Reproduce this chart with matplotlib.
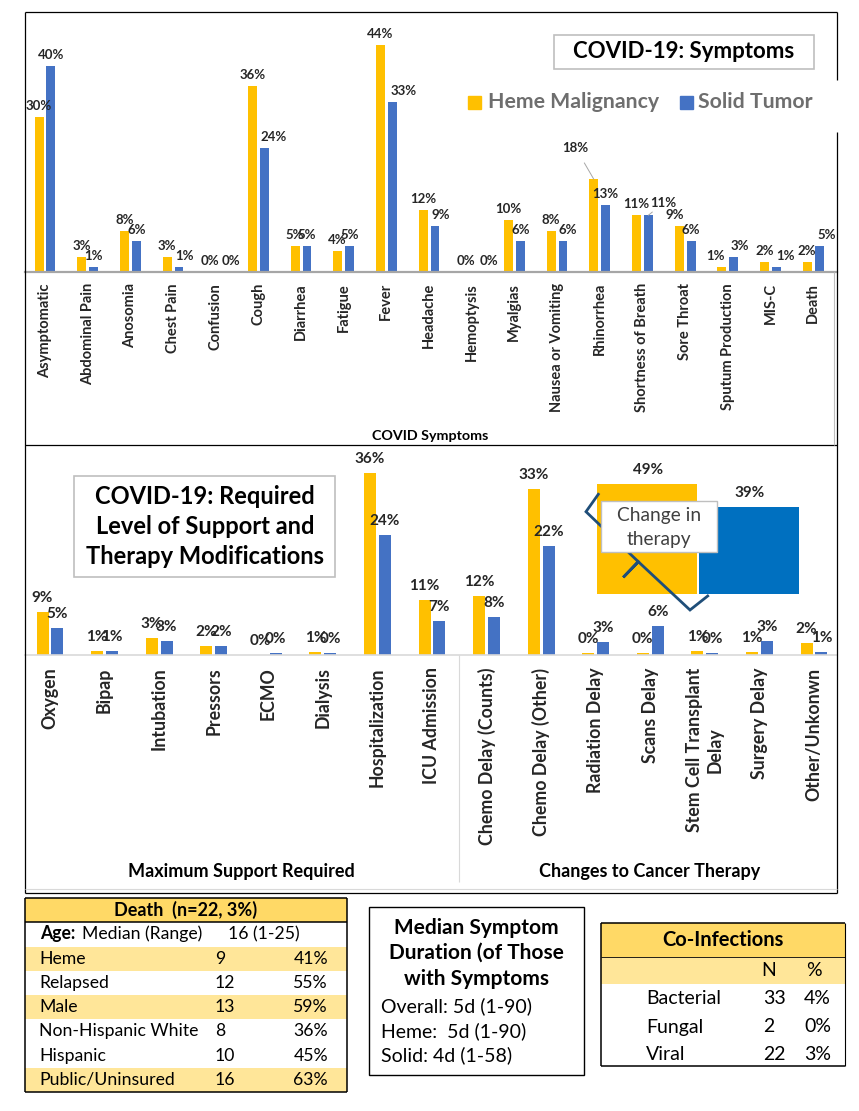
import matplotlib.pyplot as plt
from matplotlib.patches import Rectangle
import numpy as np

plt.rcParams['font.family'] = ['Lato', 'DejaVu Sans']

# ---- data ----
symptoms = ['Asymptomatic', 'Abdominal Pain', 'Anosomia', 'Chest Pain', 'Confusion',
            'Cough', 'Diarrhea', 'Fatigue', 'Fever', 'Headache', 'Hemoptysis',
            'Myalgias', 'Nausea or Vomiting', 'Rhinorrhea', 'Shortness of Breath',
            'Sore Throat', 'Sputum Production', 'MIS-C', 'Death']
sym_heme = [30, 3, 8, 3, 0, 36, 5, 4, 44, 12, 0, 10, 8, 18, 11, 9, 1, 2, 2]
sym_solid = [40, 1, 6, 1, 0, 24, 5, 5, 33, 9, 0, 6, 6, 13, 11, 6, 3, 1, 5]

support = ['Oxygen', 'Bipap', 'Intubation', 'Pressors', 'ECMO', 'Dialysis',
           'Hospitalization', 'ICU Admission']
therapy = ['Chemo Delay (Counts)', 'Chemo Delay (Other)', 'Radiation Delay',
           'Scans Delay', 'Stem Cell Transplant\nDelay', 'Surgery Delay', 'Other/Unkonwn']
sup_heme = [8.6, 0.8, 3.4, 1.8, 0, 0.6, 36, 10.8]
sup_solid = [5.4, 0.8, 2.8, 1.8, 0.4, 0.4, 23.8, 6.8]
ther_heme = [11.6, 32.8, 0.4, 0.4, 0.8, 0.6, 2.4]
ther_solid = [7.6, 21.6, 2.6, 5.7, 0.4, 2.8, 0.6]

change_vals = [49, 39]

death_rows = ['Heme', 'Relapsed', 'Male', 'Non-Hispanic White', 'Hispanic', 'Public/Uninsured']
death_n = [9, 12, 13, 8, 10, 16]
death_pct = [41, 55, 59, 36, 45, 63]
death_shaded = [True, False, True, False, False, True]

duration_lines = ['Overall: 5d (1-90)', 'Heme:  5d (1-90)', 'Solid: 4d (1-58)']

coinf_types = ['Bacterial', 'Fungal', 'Viral']
coinf_n = [33, 2, 22]
coinf_pct = [4, 0, 3]

HEME = '#FFC000'
SOLID = '#4472C4'
GOLD = '#FFD966'
LIGHT_GOLD = '#FFE699'
GRID = '#A6A6A6'
W, H = 859, 1111
PT = 0.72  # points per pixel at dpi 100

fig = plt.figure(figsize=(W / 100, H / 100), dpi=100)


def px_axes(left, top, right, bottom, z=1):
    ax = fig.add_axes([left / W, 1 - bottom / H, (right - left) / W, (bottom - top) / H], zorder=z)
    ax.patch.set_alpha(0)
    for s in ax.spines.values():
        s.set_visible(False)
    ax.set_yticks([])
    return ax


def label_bars(ax, xs, vals, dy_px, size, nudges=None, leaders=()):
    nudges = nudges or {}
    for i, (x, v) in enumerate(zip(xs, vals)):
        dx, dy = nudges.get(i, (0, dy_px))
        kw = {}
        if i in leaders:
            kw['arrowprops'] = dict(arrowstyle='-', color='#A6A6A6', lw=0.7,
                                    shrinkA=5, shrinkB=0)
        ax.annotate(f'{v:.0f}%', (x, v), xytext=(dx * PT, dy * PT), textcoords='offset points',
                    ha='center', va='center', fontsize=size, fontweight='bold',
                    color='#262626', **kw)


# ---- top chart: symptoms ----
sp = 42.67
ax1 = px_axes(25, 12, 837, 272)
x1 = np.arange(len(symptoms))
ax1.bar(x1 - 0.14, sym_heme, 0.21, color=HEME)
ax1.bar(x1 + 0.14, sym_solid, 0.21, color=SOLID)
ax1.set_xlim((25 - 45) / sp, (837 - 45) / sp)
ax1.set_ylim(0, 260 / 5.16)
ax1.axhline(0, color=GRID, lw=1.6, clip_on=False)
ax1.set_xticks(x1, symptoms, rotation=90, fontsize=10.5, fontweight='bold', color='#262626')
ax1.tick_params(axis='x', length=0, pad=8)
label_bars(ax1, x1 - 0.14, sym_heme, 11, 9.5,
           nudges={13: (-18, 31), 15: (-4, 11), 16: (-6, 11)}, leaders=(13,))
label_bars(ax1, x1 + 0.14, sym_solid, 11, 9.5,
           nudges={3: (5, 11), 4: (9, 11), 5: (9, 11), 8: (11, 11), 9: (6, 11),
                   10: (11, 11), 12: (5, 11), 14: (15, 12), 16: (6, 11), 17: (9, 11),
                   18: (8, 11)}, leaders=(14,))

# ---- middle chart: support and therapy ----
sp2 = 54.57
ax2 = px_axes(25, 445, 837, 655, z=2)
groups = support + therapy
x2 = np.arange(len(groups))
mid_heme = sup_heme + ther_heme
mid_solid = sup_solid + ther_solid
ax2.bar(x2 - 0.137, mid_heme, 0.22, color=HEME)
ax2.bar(x2 + 0.137, mid_solid, 0.22, color=SOLID)
ax2.set_xlim((25 - 50) / sp2, (837 - 50) / sp2)
ax2.set_ylim(0, 210 / 5.05)
ax2.axhline(0, color='#D9D9D9', lw=1.2, clip_on=False)
ax2.set_xticks(x2, groups, rotation=90, fontsize=12.8, fontweight='bold', color='#262626')
ax2.tick_params(axis='x', length=0, pad=9)
label_bars(ax2, x2 - 0.137, mid_heme, 14, 11)
label_bars(ax2, x2 + 0.137, mid_solid, 14, 11)

# inset: change in therapy
ax3 = px_axes(597, 482, 800, 594, z=3)
ax3.bar([0, 1], change_vals, 0.99, align='edge', color=[HEME, '#0070C0'])
ax3.set_xlim(0, 2)
ax3.set_ylim(0, 50)
ax3.set_xticks([])
label_bars(ax3, [0.5, 1.5], change_vals, 14, 11)

# ---- overlay in pixel coordinates ----
ov = fig.add_axes([0, 0, 1, 1], zorder=5)
ov.set_xlim(0, W)
ov.set_ylim(H, 0)
ov.axis('off')
ov.patch.set_alpha(0)


def line(xs, ys, color='black', lw=0.9, z=1):
    ov.plot(xs, ys, color=color, lw=lw, zorder=z, solid_capstyle='butt')


# frames
line([25, 837], [12, 12])
line([25, 25], [12, 893])
line([837, 837], [12, 80])
line([837, 837], [132, 893])
line([25, 837], [445, 445])
line([25, 837], [893, 893])
line([834, 834], [272, 445], color='#BFBFBF', lw=0.8)
line([459, 459], [655, 882], color='#D9D9D9', lw=0.8)
line([25, 837], [889, 889], color='#D9D9D9', lw=0.8)

# top title and legend
ov.add_patch(Rectangle((554, 35), 260, 34, facecolor='white', edgecolor='#BFBFBF', lw=1.2))
ov.text(684, 52, 'COVID-19: Symptoms', ha='center', va='center', fontsize=16, fontweight='bold')
ov.add_patch(Rectangle((468, 96), 13, 13, color=HEME))
ov.text(488, 102.5, 'Heme Malignancy', ha='left', va='center', fontsize=15.3,
        fontweight='bold', color='#6E6E6E')
ov.add_patch(Rectangle((680, 96), 13, 13, color=SOLID))
ov.text(698, 102.5, 'Solid Tumor', ha='left', va='center', fontsize=15.3,
        fontweight='bold', color='#6E6E6E')
ov.text(430, 436, 'COVID Symptoms', ha='center', va='center', fontsize=10.3, fontweight='bold')

# middle title
ov.add_patch(Rectangle((74, 476), 261, 101, facecolor='white', edgecolor='#BFBFBF', lw=1.2))
for yy, t in zip([497, 527, 557], ['COVID-19: Required', 'Level of Support and',
                                    'Therapy Modifications']):
    ov.text(205, yy, t, ha='center', va='center', fontsize=17, fontweight='bold')
ov.text(241, 871, 'Maximum Support Required', ha='center', va='center',
        fontsize=13, fontweight='bold')
ov.text(650, 871, 'Changes to Cancer Therapy', ha='center', va='center',
        fontsize=13, fontweight='bold')

# brace and callout
bx = [598.3, 586, 638.3, 623.3, 638.3, 690, 707.7]
by = [494.3, 511.7, 561.7, 577.3, 561.7, 610, 596]
ov.plot(bx, by, color='#1F4E79', lw=2, zorder=1, solid_joinstyle='miter')
ov.add_patch(Rectangle((601, 501), 116, 51, facecolor='white', edgecolor='#BFBFBF',
                       lw=1, zorder=2))
ov.text(659, 515, 'Change in', ha='center', va='center', fontsize=13.8, color='#404040', zorder=3)
ov.text(659, 539, 'therapy', ha='center', va='center', fontsize=13.8, color='#404040', zorder=3)

# death table
ov.add_patch(Rectangle((25, 898), 322, 24, color=GOLD, lw=0))
ov.text(186, 910, 'Death  (n=22, 3%)', ha='center', va='center', fontsize=13, fontweight='bold')
ov.text(40, 934, 'Age:', ha='left', va='center', fontsize=12.7, fontweight='bold')
ov.text(82, 934, 'Median (Range)', ha='left', va='center', fontsize=12.7)
ov.text(228, 934, '16 (1-25)', ha='left', va='center', fontsize=12.7)
row_y = 958.5
for name, n, p, shade in zip(death_rows, death_n, death_pct, death_shaded):
    if shade:
        ov.add_patch(Rectangle((25, row_y - 12), 322, 24, color=LIGHT_GOLD, lw=0))
    ov.text(39, row_y, name, ha='left', va='center', fontsize=12.7)
    ov.text(215, row_y, str(n), ha='left', va='center', fontsize=12.7)
    ov.text(328, row_y, f'{p}%', ha='right', va='center', fontsize=12.7)
    row_y += 24.3
line([25, 347], [898, 898], lw=1.1)
line([25, 347], [922, 922], lw=1.1)
line([25, 347], [1092, 1092], lw=1.1)
line([25, 25], [898, 1092], lw=1.1)
line([347, 347], [898, 1092], lw=1.1)

# median symptom duration
ov.add_patch(Rectangle((369, 907), 215, 168, facecolor='white', edgecolor='black', lw=1))
for yy, t in zip([928, 953, 979], ['Median Symptom', 'Duration (of Those', 'with Symptoms']):
    ov.text(476.5, yy, t, ha='center', va='center', fontsize=15, fontweight='bold')
for yy, t in zip([1006, 1031, 1055], duration_lines):
    ov.text(381, yy, t, ha='left', va='center', fontsize=14)

# co-infections
ov.add_patch(Rectangle((601, 923), 244, 34, color=GOLD, lw=0))
ov.add_patch(Rectangle((601, 957), 244, 27, color=LIGHT_GOLD, lw=0))
ov.text(723, 940, 'Co-Infections', ha='center', va='center', fontsize=14.5, fontweight='bold')
ov.text(769, 971, 'N', ha='center', va='center', fontsize=14)
ov.text(814, 971, '%', ha='center', va='center', fontsize=14)
for yy, t, n, p in zip([999, 1027, 1054], coinf_types, coinf_n, coinf_pct):
    ov.text(646, yy, t, ha='left', va='center', fontsize=14)
    ov.text(763, yy, str(n), ha='left', va='center', fontsize=14)
    ov.text(831, yy, f'{p}%', ha='right', va='center', fontsize=14)
line([601, 845], [923, 923], lw=1.1)
line([601, 845], [957, 957], lw=0.6)
line([601, 845], [1066, 1066], lw=1.1)
line([601, 601], [923, 1066], lw=1.1)
line([845, 845], [923, 1066], lw=0.8)

fig.savefig('out.png', dpi=100)
